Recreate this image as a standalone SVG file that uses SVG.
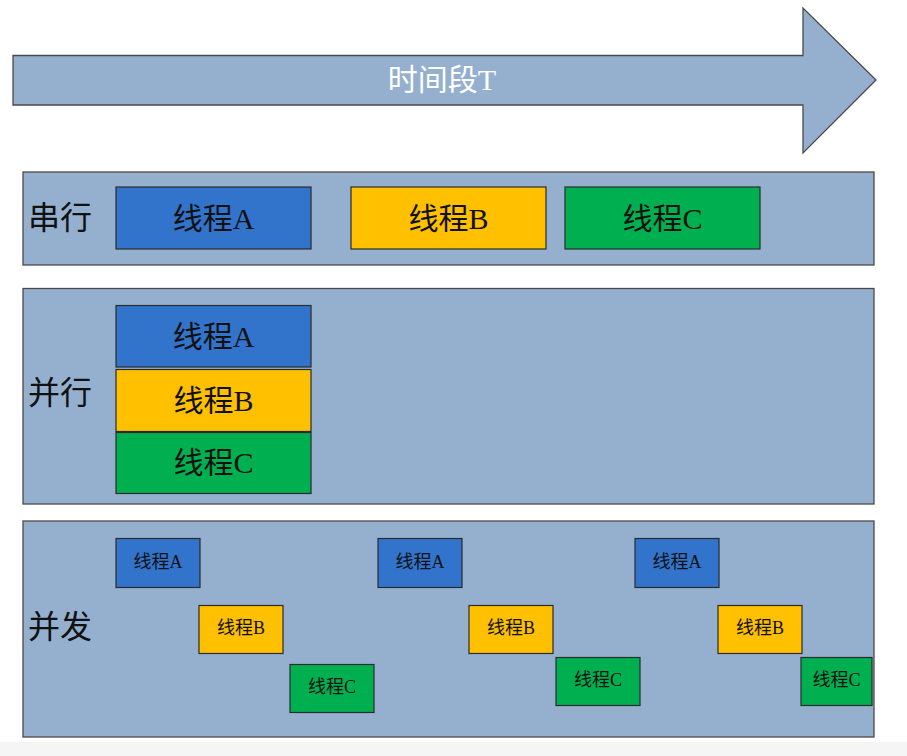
<svg xmlns="http://www.w3.org/2000/svg" width="907" height="756" viewBox="0 0 907 756">
<style>
  .panel { fill: #95B0CF; stroke: #4a4a4a; stroke-width: 1.3; }
  .box { stroke: #2b2b2b; stroke-width: 1.2; }
  .a { fill: #3273CC; }
  .b { fill: #FFC000; }
  .c { fill: #00B050; }
  text { font-family: "Liberation Serif", "Noto Sans CJK SC", serif; fill: #111; }
  .lab { font-family: "Noto Sans CJK SC", sans-serif; font-size: 32px; }
  .big { font-size: 30px; text-anchor: middle; dominant-baseline: central; }
  .small { font-size: 18px; text-anchor: middle; dominant-baseline: central; }
</style>
<rect x="0" y="0" width="907" height="756" fill="#ffffff"/>
<rect x="0" y="742" width="907" height="14" fill="#f5f5f5"/>

<g id="time-arrow">
  <polygon points="13,55.5 803,55.5 803,8 876,80 803,153 803,105 13,105" fill="#95B0CF" stroke="#4a4a4a" stroke-width="1.3"/>
  <text x="442" y="79" style="font-size:30px;fill:#ffffff;text-anchor:middle;dominant-baseline:central;">时间段T</text>
</g>

<g id="serial">
  <rect class="panel" x="23" y="172" width="851" height="93"/>
  <text class="lab" x="28" y="229">串行</text>
  <g id="serial-A"><rect class="box a" x="116" y="187" width="195" height="62"/><text class="big" x="213.5" y="218">线程A</text></g>
  <g id="serial-B"><rect class="box b" x="351" y="187" width="195" height="62"/><text class="big" x="448.5" y="218">线程B</text></g>
  <g id="serial-C"><rect class="box c" x="565" y="187" width="195" height="62"/><text class="big" x="662.5" y="218">线程C</text></g>
</g>

<g id="parallel">
  <rect class="panel" x="23" y="288.5" width="851" height="215.5"/>
  <text class="lab" x="28" y="404">并行</text>
  <g id="parallel-A"><rect class="box a" x="116" y="305.5" width="195" height="61.5"/><text class="big" x="213.5" y="336">线程A</text></g>
  <g id="parallel-B"><rect class="box b" x="116" y="369.5" width="195" height="62"/><text class="big" x="213.5" y="400">线程B</text></g>
  <g id="parallel-C"><rect class="box c" x="116" y="432.5" width="195" height="61"/><text class="big" x="213.5" y="462">线程C</text></g>
</g>

<g id="concurrent">
  <rect class="panel" x="23" y="521" width="851" height="216"/>
  <text class="lab" x="28" y="638">并发</text>
  <g id="conc-A1"><rect class="box a" x="116" y="538.5" width="84" height="49"/><text class="small" x="158" y="562">线程A</text></g>
  <g id="conc-B1"><rect class="box b" x="199" y="605.5" width="84" height="48"/><text class="small" x="241" y="628">线程B</text></g>
  <g id="conc-C1"><rect class="box c" x="290" y="664.5" width="84" height="48"/><text class="small" x="332" y="687">线程C</text></g>
  <g id="conc-A2"><rect class="box a" x="378" y="538.5" width="84" height="49"/><text class="small" x="420" y="562">线程A</text></g>
  <g id="conc-B2"><rect class="box b" x="469" y="605.5" width="84" height="48"/><text class="small" x="511" y="628">线程B</text></g>
  <g id="conc-C2"><rect class="box c" x="556" y="657.5" width="84" height="48"/><text class="small" x="598" y="680">线程C</text></g>
  <g id="conc-A3"><rect class="box a" x="635" y="538.5" width="84" height="49"/><text class="small" x="677" y="562">线程A</text></g>
  <g id="conc-B3"><rect class="box b" x="718" y="605.5" width="84" height="48"/><text class="small" x="760" y="628">线程B</text></g>
  <g id="conc-C3"><rect class="box c" x="801" y="657.5" width="71" height="48"/><text class="small" x="836.5" y="680">线程C</text></g>
</g>

<g id="connectors"></g>
</svg>
